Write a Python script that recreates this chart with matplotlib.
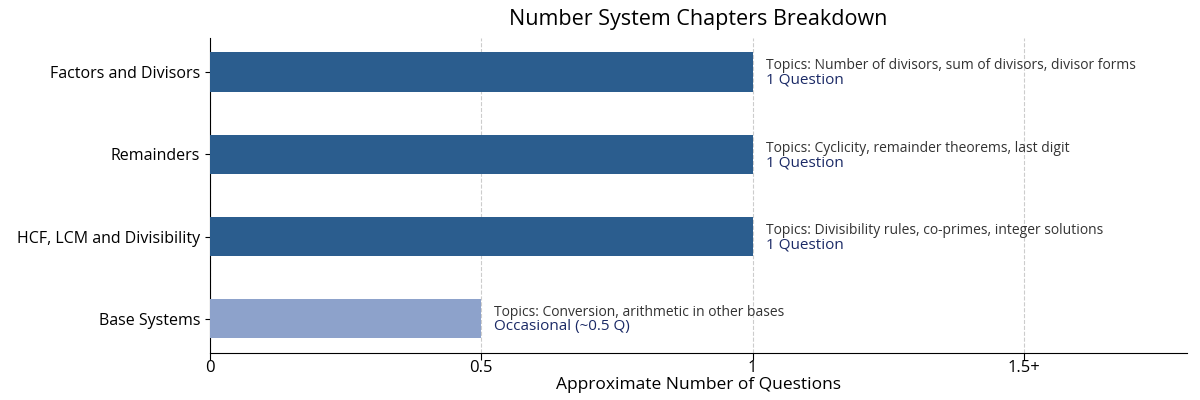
import matplotlib
matplotlib.use("Agg")
import matplotlib.pyplot as plt

plt.rcParams['font.family'] = ['Open Sans', 'DejaVu Sans']

# data, bottom to top
chapters = ["Base Systems", "HCF, LCM and Divisibility", "Remainders", "Factors and Divisors"]
questions = [0.5, 1, 1, 1]
topics = [
    "Topics: Conversion, arithmetic in other bases",
    "Topics: Divisibility rules, co-primes, integer solutions",
    "Topics: Cyclicity, remainder theorems, last digit",
    "Topics: Number of divisors, sum of divisors, divisor forms",
]
counts = ["Occasional (~0.5 Q)", "1 Question", "1 Question", "1 Question"]
bar_colors = ["#8da2cb", "#2b5d8e", "#2b5d8e", "#2b5d8e"]
xticks = [0, 0.5, 1, 1.5]
xtick_labels = ["0", "0.5", "1", "1.5+"]

fig = plt.figure(figsize=(12, 4), dpi=100)
ax = fig.add_axes([0.175, 0.118, 0.814, 0.787])

ypos = list(range(len(chapters)))
ax.barh(ypos, questions, height=0.48, color=bar_colors, zorder=3)

for y, q, t, c in zip(ypos, questions, topics, counts):
    ax.text(q + 0.024, y + 0.075, t, fontsize=10, color="#333333", va="center", ha="left")
    ax.text(q + 0.024, y - 0.1, c, fontsize=11, color="#1b2a66", va="center", ha="left")

ax.set_yticks(ypos)
ax.set_yticklabels(chapters, fontsize=11.5)
ax.set_xticks(xticks)
ax.set_xticklabels(xtick_labels, fontsize=12)
ax.set_xlim(0, 1.8)
ax.set_xlabel("Approximate Number of Questions", fontsize=12.5, labelpad=1)
ax.set_title("Number System Chapters Breakdown", fontsize=15.5, pad=9)

ax.grid(axis="x", linestyle="--", color="#cccccc", linewidth=0.8, zorder=0)
ax.spines["top"].set_visible(False)
ax.spines["right"].set_visible(False)
ax.tick_params(axis="x", length=5, pad=0)

plt.savefig("out.png")
